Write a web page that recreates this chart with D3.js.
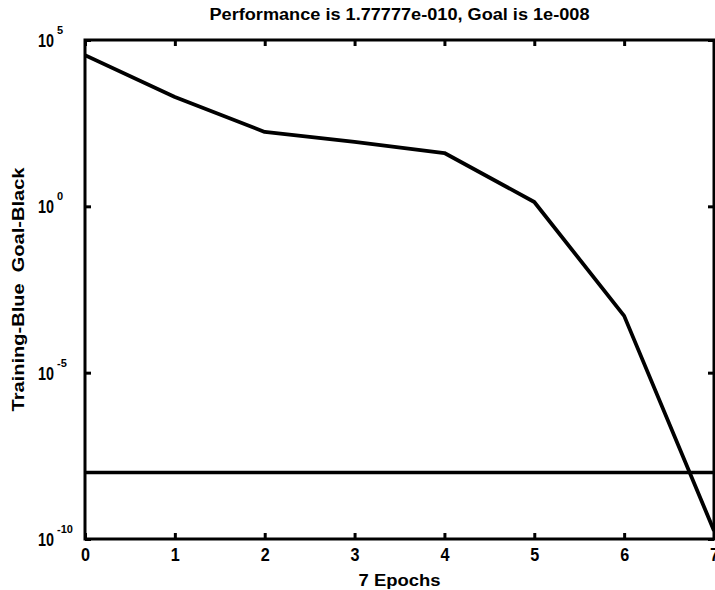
<!DOCTYPE html>
<html>
<head>
<meta charset="utf-8">
<script src="https://cdn.jsdelivr.net/npm/d3@7"></script>
<style>
  body { margin: 0; background: #fff; }
  text { font-family: "Liberation Sans", Arial, sans-serif; font-weight: bold; fill: #000; }
</style>
</head>
<body>
<div id="chart"></div>
<script>
const epochs = [0, 1, 2, 3, 4, 5, 6, 7];
const performance = [3.5e4, 1.94e3, 172, 86, 40, 1.35, 5.1e-4, 1.77777e-10];
const goal = 1e-8;
const xTicks = [0, 1, 2, 3, 4, 5, 6, 7];
const yTickExps = [5, 0, -5, -10];

const width = 715, height = 590;
const margin = { top: 40, right: 1, bottom: 51, left: 85 };
const innerW = width - margin.left - margin.right;
const innerH = height - margin.top - margin.bottom;

const svg = d3.select("#chart").append("svg")
    .attr("width", width)
    .attr("height", height);

const g = svg.append("g")
    .attr("transform", `translate(${margin.left},${margin.top})`);

const x = d3.scaleLinear().domain([0, 7]).range([0, innerW]);
const y = d3.scaleLog().domain([1e-10, 1e5]).range([innerH, 0]);

// data line + goal line, clipped to axes
g.append("clipPath").attr("id", "clip")
    .append("rect").attr("width", innerW).attr("height", innerH);

const plot = g.append("g").attr("clip-path", "url(#clip)");

plot.append("line")
    .attr("x1", 0).attr("x2", innerW)
    .attr("y1", y(goal)).attr("y2", y(goal))
    .attr("stroke", "#000").attr("stroke-width", 3.5);

const line = d3.line()
    .x((d, i) => x(epochs[i]))
    .y(d => y(d));

plot.append("path")
    .datum(performance)
    .attr("fill", "none")
    .attr("stroke", "#000")
    .attr("stroke-width", 3.8)
    .attr("stroke-linejoin", "round")
    .attr("d", line);

// box
g.append("rect")
    .attr("width", innerW).attr("height", innerH)
    .attr("fill", "none").attr("stroke", "#000").attr("stroke-width", 3);

// x ticks (inside, top and bottom)
const xAxis = d3.axisBottom(x).tickValues(xTicks).tickSize(-6).tickPadding(9).tickFormat(d3.format("d"));
const xg = g.append("g").attr("transform", `translate(0,${innerH})`).call(xAxis);
xg.select(".domain").remove();
xg.selectAll(".tick line").attr("stroke", "#000").attr("stroke-width", 3);
xg.selectAll(".tick text")
    .attr("font-family", null).attr("font-size", null)
    .style("font-size", "18px")
    .attr("textLength", 9)
    .attr("lengthAdjust", "spacingAndGlyphs");

const xTop = g.append("g").call(d3.axisTop(x).tickValues(xTicks).tickSize(-6).tickFormat(""));
xTop.select(".domain").remove();
xTop.selectAll(".tick line").attr("stroke", "#000").attr("stroke-width", 3);

// y ticks (inside, left and right)
const yVals = yTickExps.map(e => Math.pow(10, e));
const yAxis = d3.axisLeft(y).tickValues(yVals).tickSize(-6).tickFormat("");
const yg = g.append("g").call(yAxis);
yg.select(".domain").remove();
yg.selectAll(".tick line").attr("stroke", "#000").attr("stroke-width", 3);

const yRight = g.append("g").attr("transform", `translate(${innerW},0)`)
    .call(d3.axisRight(y).tickValues(yVals).tickSize(-6).tickFormat(""));
yRight.select(".domain").remove();
yRight.selectAll(".tick line").attr("stroke", "#000").attr("stroke-width", 3);

// y tick labels 10^n
yTickExps.forEach(e => {
    const ty = y(Math.pow(10, e));
    g.append("text")
        .attr("x", -47)
        .attr("y", ty + 7)
        .attr("textLength", 16)
        .attr("lengthAdjust", "spacingAndGlyphs")
        .style("font-size", "18px")
        .text("10");
    g.append("text")
        .attr("x", -28)
        .attr("y", ty - 6)
        .attr("text-anchor", "start")
        .style("font-size", "11px")
        .text(e);
});

// title
svg.append("text")
    .attr("x", margin.left + innerW / 2)
    .attr("y", 20)
    .attr("text-anchor", "middle")
    .attr("textLength", 380)
    .attr("lengthAdjust", "spacingAndGlyphs")
    .style("font-size", "16px")
    .text("Performance is 1.77777e-010, Goal is 1e-008");

// x label
svg.append("text")
    .attr("x", margin.left + innerW / 2)
    .attr("y", 586)
    .attr("text-anchor", "middle")
    .attr("textLength", 82)
    .attr("lengthAdjust", "spacingAndGlyphs")
    .style("font-size", "16px")
    .text("7 Epochs");

// y label
svg.append("text")
    .attr("transform", `translate(24,${margin.top + innerH / 2}) rotate(-90)`)
    .attr("text-anchor", "middle")
    .attr("textLength", 244)
    .attr("lengthAdjust", "spacingAndGlyphs")
    .style("font-size", "16px")
    .style("white-space", "pre")
    .text("Training-Blue  Goal-Black");
</script>
</body>
</html>
